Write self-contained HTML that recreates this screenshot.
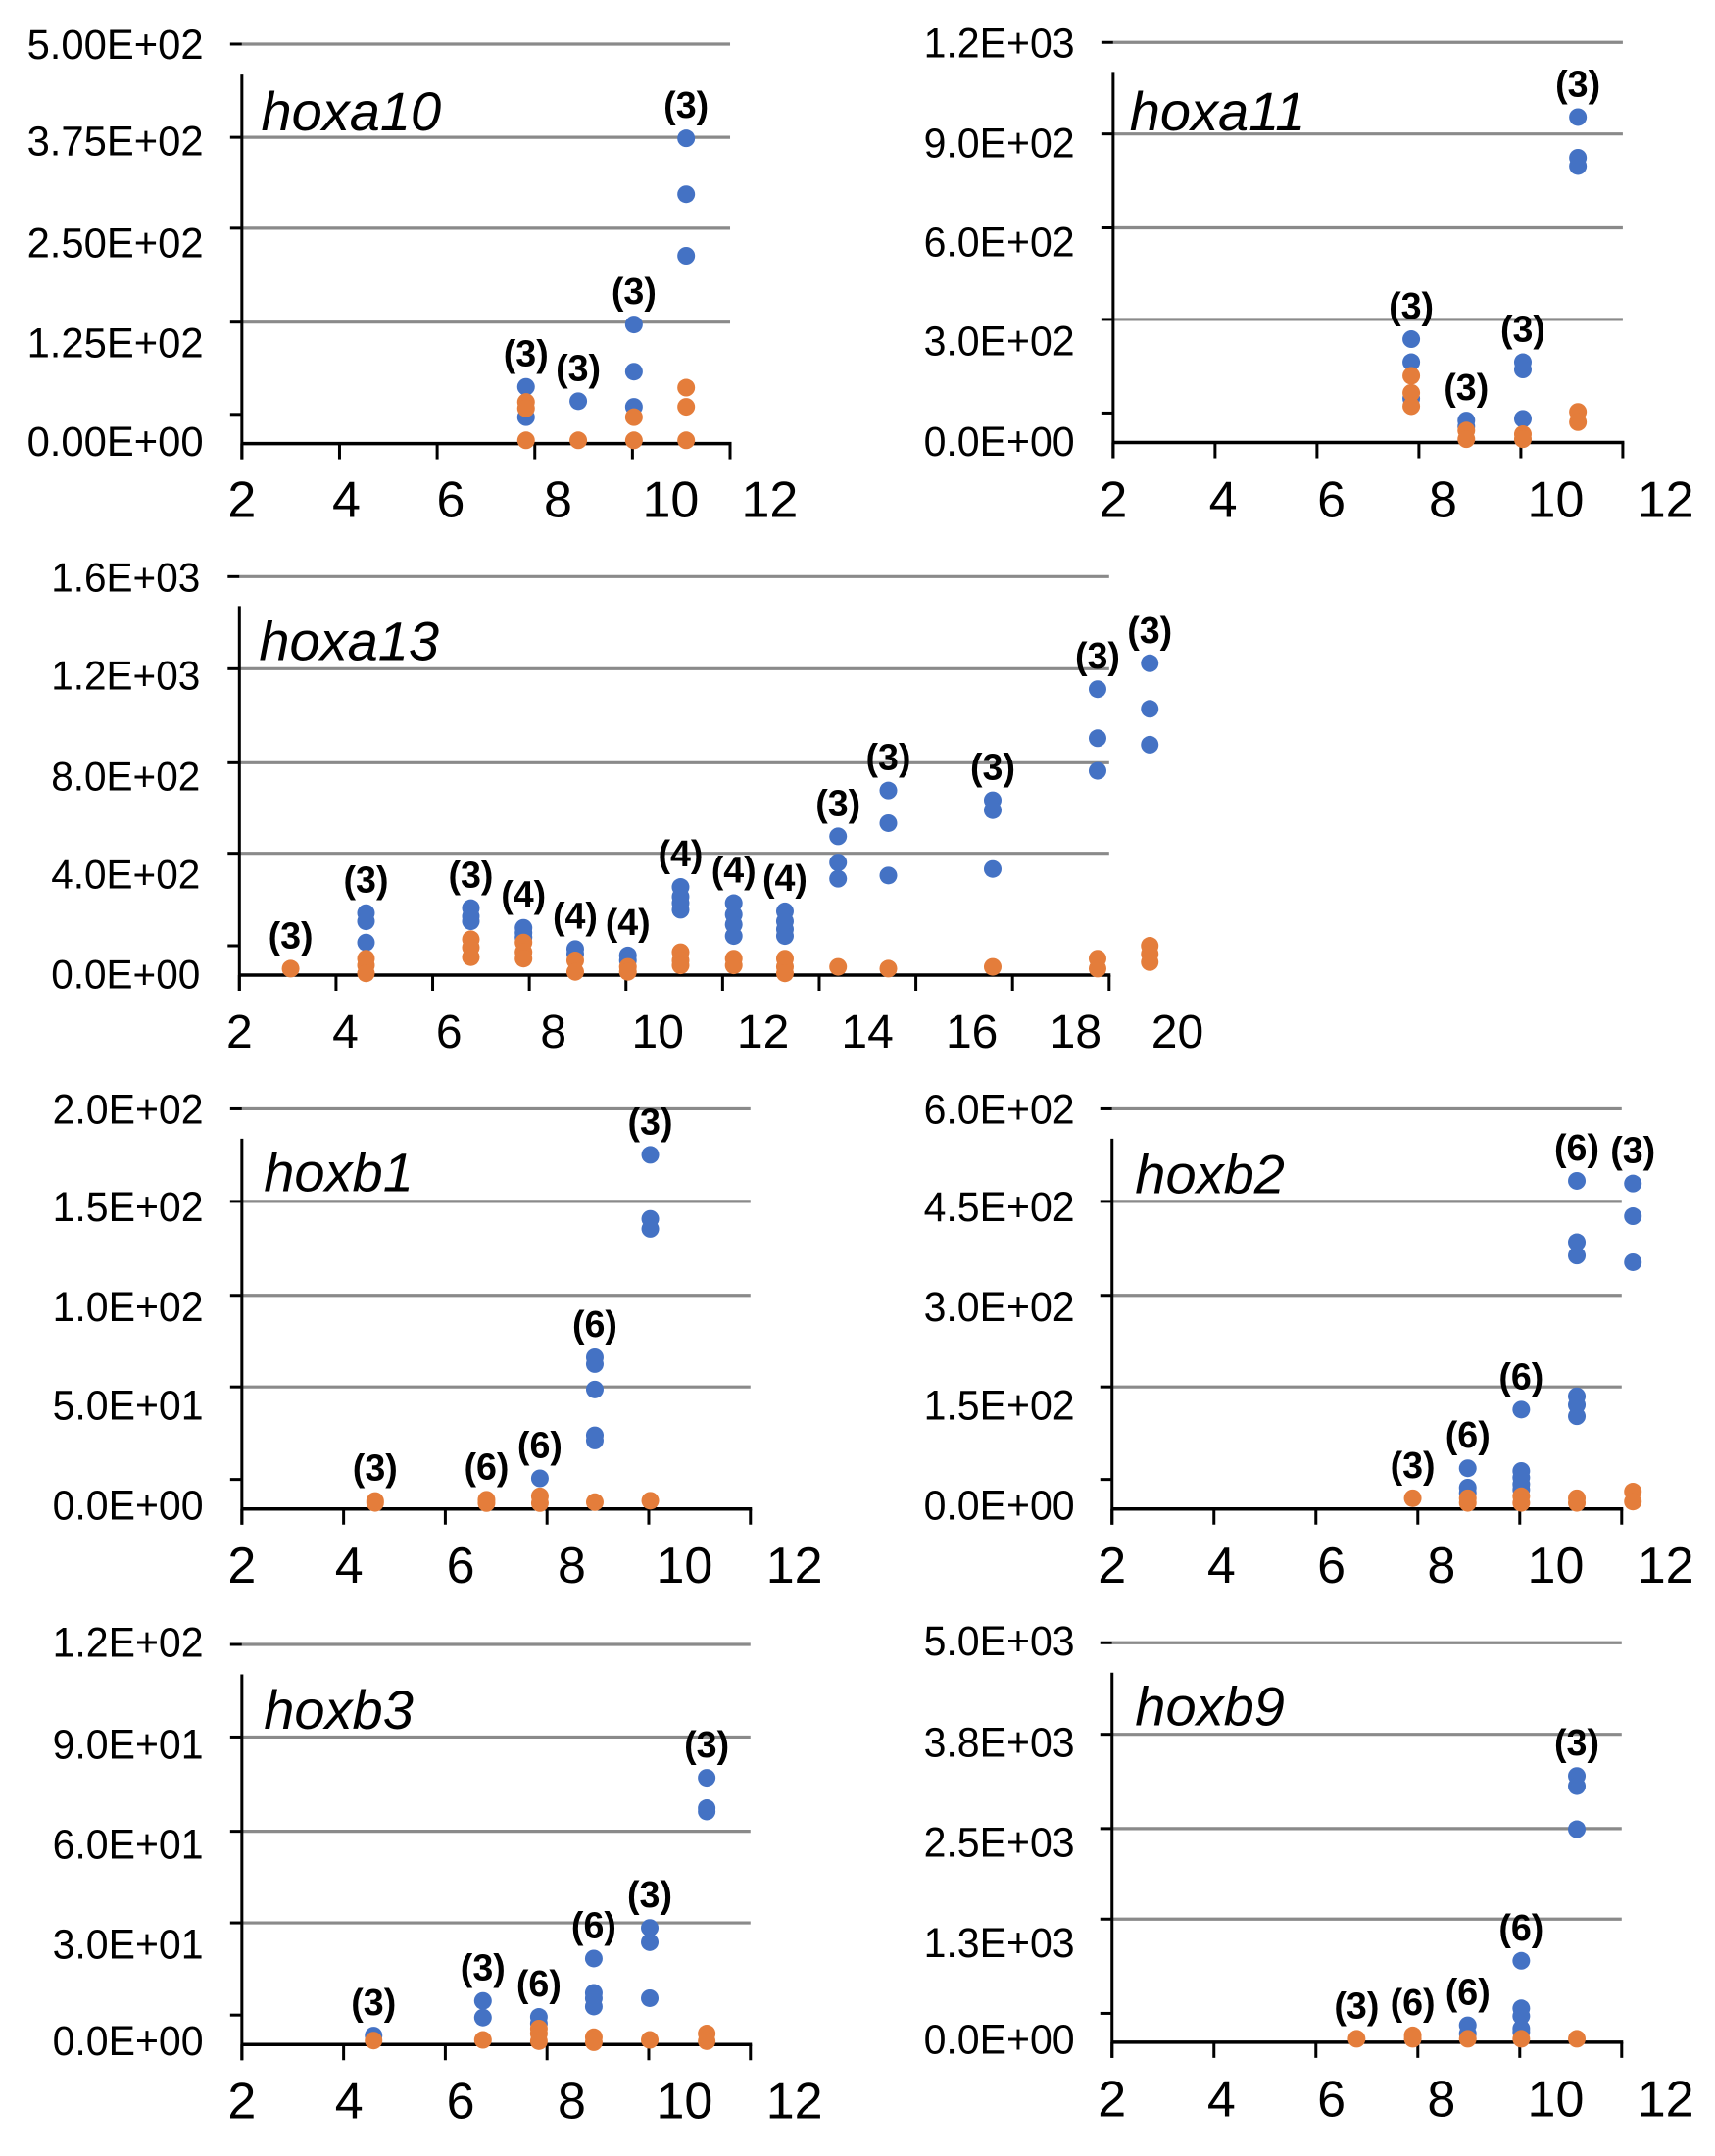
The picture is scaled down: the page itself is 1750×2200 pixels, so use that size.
<!DOCTYPE html>
<html><head><meta charset="utf-8">
<style>
html,body{margin:0;padding:0;background:#fff;}
svg{display:block;font-family:"Liberation Sans",sans-serif;}
</style></head>
<body>
<svg id="fig" width="1750" height="2200" viewBox="0 0 1750 2200" xmlns="http://www.w3.org/2000/svg"></svg>
<script>
// ---------- DATA ----------
// hoxa10
const a10_x = [7.82, 8.89, 10.03, 11.1];
const a10_blue = [[71, 33], [53], [149, 90, 46], [382, 312, 235]];
const a10_orange = [[52, 44, 4], [4], [33, 4], [70, 46, 4]];
const a10_n = ["(3)", "(3)", "(3)", "(3)"];
const a10_yticks = ["5.00E+02", "3.75E+02", "2.50E+02", "1.25E+02", "0.00E+00"];
// hoxa11
const a11_x = [7.85, 8.93, 10.04, 11.12];
const a11_blue = [[310, 241, 132], [66, 48], [241, 219, 71], [976, 854, 829]];
const a11_orange = [[200, 149, 109], [36, 10], [25, 10], [92, 61]];
const a11_n = ["(3)", "(3)", "(3)", "(3)"];
const a11_yticks = ["1.2E+03", "9.0E+02", "6.0E+02", "3.0E+02", "0.0E+00"];
// hoxa13
const a13_x = [3.06, 4.62, 6.79, 7.88, 8.95, 10.04, 11.13, 12.23, 13.29, 14.39, 15.43, 17.59, 19.76, 20.84];
const a13_blue = [[], [249, 216, 131], [269, 236, 216], [190, 170, 151], [105, 85], [79, 59], [354, 315, 289, 262], [289, 243, 203, 157], [256, 216, 184, 157], [557, 452, 387], [741, 610, 400], [702, 662, 426], [1148, 951, 820], [1252, 1069, 925]];
const a13_orange = [[26], [66, 39, 7], [144, 111, 72], [131, 92, 66], [59, 13], [33, 13], [92, 59, 39], [66, 39], [66, 33, 7], [33], [26], [33], [66, 26], [118, 85, 52]];
const a13_n = ["(3)", "(3)", "(3)", "(4)", "(4)", "(4)", "(4)", "(4)", "(4)", "(3)", "(3)", "(3)", "(3)", "(3)"];
const a13_yticks = ["1.6E+03", "1.2E+03", "8.0E+02", "4.0E+02", "0.0E+00"];
// hoxb1
const b1_x = [4.62, 6.81, 7.86, 8.94, 10.03];
const b1_blue = [[], [], [15.3], [75.8, 72.4, 59.7, 36.8, 34.2], [177, 145, 140]];
const b1_orange = [[4, 3], [4.6, 2.9], [6.3, 2.9], [3.4], [4.1]];
const b1_n = ["(3)", "(6)", "(6)", "(6)", "(3)"];
const b1_yticks = ["2.0E+02", "1.5E+02", "1.0E+02", "5.0E+01", "0.0E+00"];
// hoxb2
const b2_x = [7.9, 8.98, 10.03, 11.12, 12.22];
const b2_blue = [[], [61, 32, 24], [149, 57, 47, 37, 29], [492, 400, 380, 169, 156, 139], [488, 439, 370]];
const b2_orange = [[16], [16, 9], [19, 9], [16, 9], [26, 11]];
const b2_n = ["(3)", "(6)", "(6)", "(6)", "(3)"];
const b2_yticks = ["6.0E+02", "4.5E+02", "3.0E+02", "1.5E+02", "0.0E+00"];
// hoxb3
const b3_x = [4.59, 6.74, 7.84, 8.92, 10.02, 11.14];
const b3_blue = [[2.7], [13.1, 8.1], [8.3, 6.3], [25.8, 15.5, 13.9, 11.4], [35, 30.7, 13.9], [80, 70.9, 69.9]];
const b3_orange = [[1.2], [1.4], [4.8, 3.3, 1], [2.2, 0.7], [1.4], [3.3, 1]];
const b3_n = ["(3)", "(3)", "(6)", "(6)", "(3)", "(3)"];
const b3_yticks = ["1.2E+02", "9.0E+01", "6.0E+01", "3.0E+01", "0.0E+00"];
// hoxb9
const b9_x = [6.8, 7.9, 8.98, 10.03, 11.12];
const b9_blue = [[], [], [212, 106], [1019, 424, 327, 170, 127], [3332, 3205, 2666]];
const b9_orange = [[42], [85, 42], [42], [42], [42]];
const b9_n = ["(3)", "(6)", "(6)", "(6)", "(3)"];
const b9_yticks = ["5.0E+03", "3.8E+03", "2.5E+03", "1.3E+03", "0.0E+00"];

const xt12 = ["2", "4", "6", "8", "10", "12"];
const xt20 = ["2", "4", "6", "8", "10", "12", "14", "16", "18", "20"];

// ---------- LAYOUT (zoom-space geometry per panel) ----------
const panels = [
 {name:"hoxa10", crop:[0,0], sx:0.561, sy:0.346, ax:440, xe:1328, xmin:2, xmax:12, base:1308, top:130, vmax:500,
  grids:[405,673,950], minor:1222, atop:220, ylRight:370, ylYs:[130,415,715,1010,1300], ylLen:180, ylFont:43,
  xlY:1470, xlXs:[440,630,820,1015,1220,1400], xlFont:52, title:[475,385],
  x:a10_x, blue:a10_blue, orange:a10_orange, n:a10_n, yt:a10_yticks, xt:xt12},
 {name:"hoxa11", crop:[875,0], sx:0.561, sy:0.346, ax:465, xe:1392, xmin:2, xmax:12, base:1305, top:125, vmax:1200,
  grids:[395,672,942], minor:1218, atop:212, ylRight:395, ylYs:[125,420,712,1005,1300], ylLen:154, ylFont:43,
  xlY:1470, xlXs:[465,665,862,1065,1270,1470], xlFont:52, title:[495,385],
  x:a11_x, blue:a11_blue, orange:a11_orange, n:a11_n, yt:a11_yticks, xt:xt12},
 {name:"hoxa13", crop:[0,560], sx:0.801, sy:1/3, ax:305, xe:1413, xmin:2, xmax:20, base:1305, top:85, vmax:1600,
  grids:[367,655,932], minor:1215, atop:175, ylRight:255, ylYs:[85,385,695,995,1300], ylLen:152, ylFont:42,
  xlY:1475, xlXs:[305,440,572,705,838,972,1105,1238,1370,1500], xlFont:48, title:[330,340],
  x:a13_x, blue:a13_blue, orange:a13_orange, n:a13_n, yt:a13_yticks, xt:xt20},
 {name:"hoxb1", crop:[0,1110], sx:0.561, sy:0.346, ax:440, xe:1365, xmin:2, xmax:12, base:1242, top:62, vmax:200,
  grids:[335,612,882], minor:1155, atop:150, ylRight:370, ylYs:[62,350,645,935,1230], ylLen:154, ylFont:43,
  xlY:1405, xlXs:[440,635,838,1040,1245,1445], xlFont:52, title:[480,305],
  x:b1_x, blue:b1_blue, orange:b1_orange, n:b1_n, yt:b1_yticks, xt:xt12},
 {name:"hoxb2", crop:[875,1110], sx:0.561, sy:0.346, ax:463, xe:1390, xmin:2, xmax:12, base:1242, top:62, vmax:600,
  grids:[335,612,882], minor:1155, atop:150, ylRight:395, ylYs:[62,350,645,935,1230], ylLen:154, ylFont:43,
  xlY:1405, xlXs:[463,662,862,1062,1270,1470], xlFont:52, title:[505,310],
  x:b2_x, blue:b2_blue, orange:b2_orange, n:b2_n, yt:b2_yticks, xt:xt12},
 {name:"hoxb3", crop:[0,1660], sx:0.561, sy:0.346, ax:440, xe:1365, xmin:2, xmax:12, base:1232, top:52, vmax:120,
  grids:[325,603,873], minor:1145, atop:140, ylRight:370, ylYs:[45,345,640,935,1220], ylLen:154, ylFont:43,
  xlY:1395, xlXs:[440,635,838,1040,1245,1445], xlFont:52, title:[480,300],
  x:b3_x, blue:b3_blue, orange:b3_orange, n:b3_n, yt:b3_yticks, xt:xt12},
 {name:"hoxb9", crop:[875,1660], sx:0.561, sy:0.346, ax:463, xe:1390, xmin:2, xmax:12, base:1225, top:47, vmax:5000,
  grids:[317,595,862], minor:1140, atop:135, ylRight:395, ylYs:[40,340,635,930,1215], ylLen:154, ylFont:43,
  xlY:1390, xlXs:[463,662,862,1062,1270,1470], xlFont:52, title:[505,290],
  x:b9_x, blue:b9_blue, orange:b9_orange, n:b9_n, yt:b9_yticks, xt:xt12}
];

const NS = "http://www.w3.org/2000/svg";
const svg = document.getElementById("fig");
function mk(tag, attrs, parent){
  const e = document.createElementNS(NS, tag);
  for (const k in attrs) e.setAttribute(k, attrs[k]);
  parent.appendChild(e);
  return e;
}

panels.forEach(p => {
  const X = zx => p.crop[0] + zx * p.sx;
  const Y = zy => p.crop[1] + zy * p.sy;
  const xScale = v => X(p.ax + (v - p.xmin) / (p.xmax - p.xmin) * (p.xe - p.ax));
  const yScale = v => Y(p.base - v / p.vmax * (p.base - p.top));
  const g = mk("g", {}, svg);
  
  

  [p.top].concat(p.grids).forEach((gy, i) => {
    const l = mk("line", {x1:X(p.ax), x2:X(p.xe), y1:Y(gy), y2:Y(gy), stroke:"#8a8a8a", "stroke-width":3.2}, g);
    
    
    const t = mk("line", {x1:X(p.ax)-12, x2:X(p.ax), y1:Y(gy), y2:Y(gy), stroke:"#000", "stroke-width":3}, g);
    
    
  });
  const mt = mk("line", {x1:X(p.ax)-12, x2:X(p.ax), y1:Y(p.minor), y2:Y(p.minor), stroke:"#000", "stroke-width":3}, g);
  
  

  const ya = mk("line", {x1:X(p.ax), x2:X(p.ax), y1:Y(p.atop), y2:Y(p.base)+16, stroke:"#000", "stroke-width":3}, g);
  
  
  const xa = mk("line", {x1:X(p.ax), x2:X(p.xe)+1.5, y1:Y(p.base), y2:Y(p.base), stroke:"#000", "stroke-width":3.5}, g);
  
  
  p.xt.forEach((lab, i) => {
    const v = +lab;
    const tk = mk("line", {x1:xScale(v), x2:xScale(v), y1:Y(p.base), y2:Y(p.base)+16, stroke:"#000", "stroke-width":3}, g);
    
    
    const tx = mk("text", {x:X(p.xlXs[i]), y:Y(p.xlY) + p.xlFont*0.36, "text-anchor":"middle", "font-size":p.xlFont, fill:"#000"}, g);
    tx.textContent = lab;
    
    
  });
  p.yt.forEach((lab, i) => {
    const tx = mk("text", {x:X(p.ylRight), y:Y(p.ylYs[i]) + 15, "text-anchor":"end", "font-size":p.ylFont, fill:"#000",
      textLength:p.ylLen, lengthAdjust:"spacingAndGlyphs"}, g);
    tx.textContent = lab;
    
    
  });

  const tt = mk("text", {x:X(p.title[0]), y:Y(p.title[1]), "font-size":56, "font-style":"italic", fill:"#000"}, g);
  tt.textContent = p.name;
  
  

  p.x.forEach((xv, gi) => {
    p.blue[gi].forEach(v => {
      const c = mk("circle", {cx:xScale(xv), cy:yScale(v), r:9, fill:"#4472C4"}, g);
      
      
    });
  });
  p.x.forEach((xv, gi) => {
    p.orange[gi].forEach(v => {
      const c = mk("circle", {cx:xScale(xv), cy:yScale(v), r:9, fill:"#E47D3B"}, g);
      
      
    });
    const all = p.blue[gi].concat(p.orange[gi]);
    const mx = Math.max.apply(null, all);
    const lt = mk("text", {x:xScale(xv), y:yScale(mx) - 34 + 13, "text-anchor":"middle", "font-size":38, "font-weight":"bold",
      fill:"#000", textLength:46, lengthAdjust:"spacingAndGlyphs"}, g);
    lt.textContent = p.n[gi];
    
    
  });
});
</script>
</body></html>
